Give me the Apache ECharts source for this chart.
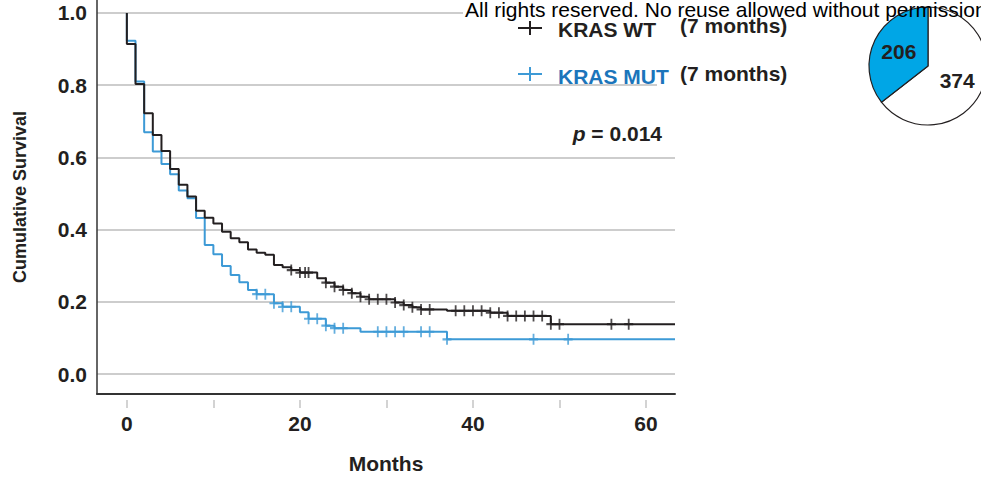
<!DOCTYPE html>
<html><head><meta charset="utf-8">
<script src="https://cdn.jsdelivr.net/npm/echarts@6/dist/echarts.min.js"></script>
<style>html,body{margin:0;padding:0;background:#fff}#c{width:981px;height:480px}</style>
</head><body><div id="c"></div>
<script>
// KRAS WT (black) Kaplan-Meier steps: time (months) and survival after each event
const wtTime = [0, 0, 1, 2, 3, 4, 5, 6, 7, 8, 9, 10, 11, 12, 13, 14, 15, 16, 17, 18, 19, 20, 22, 23, 24, 25, 26, 27, 28, 31, 32, 33, 34, 37, 42, 44, 49];
const wtSurv = [1.0, 0.914, 0.803, 0.722, 0.662, 0.618, 0.568, 0.524, 0.492, 0.452, 0.433, 0.417, 0.394, 0.376, 0.365, 0.345, 0.336, 0.330, 0.302, 0.296, 0.288, 0.281, 0.265, 0.253, 0.242, 0.233, 0.224, 0.214, 0.207, 0.198, 0.191, 0.185, 0.179, 0.175, 0.170, 0.161, 0.138];
const wtCensor = [19, 20, 20.6, 21, 23, 24, 25, 26, 27, 28, 29, 30, 31, 32, 33, 34, 35, 38, 39, 40, 41, 42, 43, 44, 45, 46, 47, 48, 49, 50, 56, 58];
// KRAS MUT (blue)
const mutTime = [0, 0, 1, 2, 3, 4, 5, 6, 7, 8, 9, 10, 11, 12, 13, 14, 15, 17, 18, 20, 21, 23, 24, 27, 37];
const mutSurv = [1.0, 0.923, 0.810, 0.670, 0.616, 0.582, 0.553, 0.508, 0.487, 0.432, 0.357, 0.332, 0.299, 0.274, 0.254, 0.233, 0.221, 0.196, 0.186, 0.171, 0.153, 0.134, 0.127, 0.117, 0.096];
const mutCensor = [15, 16, 17, 18, 19, 21, 22, 23, 24, 25, 29, 30, 31, 32, 34, 35, 37, 47, 51];
// axes
const xTicks = [0, 10, 20, 30, 40, 50, 60];
const xLabels = [0, 20, 40, 60];
const yLabels = [0, 0.2, 0.4, 0.6, 0.8, 1.0];
// pie: [KRAS WT, KRAS MUT]
const pieNames = ['KRAS WT', 'KRAS MUT'];
const pieValues = [374, 206];
const groupNames = ['KRAS WT', 'KRAS MUT'];
const medianLabels = ['(7 months)', '(7 months)'];
const pText = '0.014';

const X_MIN = -3.45, X_MAX = 63.35, Y_MIN = -0.0554, Y_MAX = 1.036;
const BLACK = '#231f20', BLUE = '#3d9ad6', BLUE_TXT = '#1b75bb', PIE_BLUE = '#00a6e6';
const FONT = "'Liberation Sans', Arial, sans-serif";

function steps(t, s) {
  const d = t.map((v, i) => [v, s[i]]);
  d.push([X_MAX, s[s.length - 1]]);
  return d;
}
function survAt(t, s, x) {
  let v = s[0];
  for (let i = 0; i < t.length; i++) if (t[i] <= x) v = s[i];
  return v;
}
const plus = 'path://M4,0H6V4H10V6H6V10H4V6H0V4H4Z';

const chart = echarts.init(document.getElementById('c'), null, {renderer: 'svg'});
chart.setOption({
  animation: false,
  backgroundColor: '#fff',
  textStyle: {fontFamily: FONT},
  grid: {left: 97, right: 306, top: 0, bottom: 86, containLabel: false},
  xAxis: [{
    type: 'value', min: X_MIN, max: X_MAX,
    name: 'Months', nameLocation: 'middle', nameGap: 59,
    nameTextStyle: {fontSize: 21, fontWeight: 'bold', color: BLACK, fontFamily: FONT},
    axisLine: {show: true, onZero: false, lineStyle: {color: '#333', width: 2}},
    axisTick: {show: false, customValues: xLabels},
    axisLabel: {customValues: xLabels, margin: 19, fontSize: 21, fontWeight: 'bold', color: BLACK, fontFamily: FONT},
    splitLine: {show: false}
  }, {
    type: 'value', min: X_MIN, max: X_MAX, position: 'bottom', offset: 6,
    axisLine: {show: false, onZero: false},
    axisTick: {show: true, customValues: xTicks, length: 8, lineStyle: {color: '#c4c4c4', width: 1.5}},
    axisLabel: {show: false},
    splitLine: {show: false}
  }],
  yAxis: {
    type: 'value', min: Y_MIN, max: Y_MAX,
    name: 'Cumulative Survival', nameLocation: 'middle', nameGap: 68,
    nameTextStyle: {fontSize: 18, fontWeight: 'bold', color: BLACK, fontFamily: FONT},
    axisLine: {show: true, onZero: false, lineStyle: {color: '#333', width: 1.5}},
    axisTick: {show: false, customValues: yLabels},
    axisLabel: {customValues: yLabels, margin: 10, fontSize: 21, fontWeight: 'bold', color: BLACK, fontFamily: FONT,
      formatter: v => v.toFixed(1)},
    splitLine: {show: true, lineStyle: {color: '#bdbdbd', width: 1.5}}
  },
  series: [
    {type: 'line', name: 'KRAS MUT', step: 'end', data: steps(mutTime, mutSurv), showSymbol: false, symbol: 'none',
      lineStyle: {color: BLUE, width: 2}, z: 2},
    {type: 'line', name: 'KRAS WT', step: 'end', data: steps(wtTime, wtSurv), showSymbol: false, symbol: 'none',
      lineStyle: {color: BLACK, width: 2}, z: 3},
    {type: 'scatter', data: mutCensor.map(t => [t, survAt(mutTime, mutSurv, t)]), symbol: plus, symbolSize: [9, 11],
      itemStyle: {color: BLUE}, z: 4},
    {type: 'scatter', data: wtCensor.map(t => [t, survAt(wtTime, wtSurv, t)]), symbol: plus, symbolSize: [9, 11],
      itemStyle: {color: BLACK}, z: 5},
    {type: 'pie', center: [928, 66], radius: 59, startAngle: 90, clockwise: true, silent: true, z: 6,
      label: {show: true, position: 'inside', formatter: '{c}', fontSize: 21, fontWeight: 'bold', color: BLACK, fontFamily: FONT},
      labelLine: {show: false},
      itemStyle: {borderColor: BLACK, borderWidth: 1.2},
      data: [{name: pieNames[0], value: pieValues[0], itemStyle: {color: '#fff'}},
             {name: pieNames[1], value: pieValues[1], itemStyle: {color: PIE_BLUE}}]}
  ],
  graphic: [
    {type: 'rect', z: 1, shape: {x: 463, y: 3, width: 214, height: 18}, style: {fill: '#fff'}},
    {type: 'rect', z: 1, shape: {x: 657, y: 80, width: 20, height: 10}, style: {fill: '#fff'}},
    {type: 'text', z: 100, x: 465, y: 9, style: {text: 'All rights reserved. No reuse allowed without permission.',
      fill: '#000', font: "21px " + FONT, verticalAlign: 'middle', align: 'left'}},
    {type: 'line', z: 10, shape: {x1: 518, y1: 28, x2: 542, y2: 28}, style: {stroke: BLACK, lineWidth: 2}},
    {type: 'line', z: 10, shape: {x1: 530, y1: 21, x2: 530, y2: 35}, style: {stroke: BLACK, lineWidth: 2}},
    {type: 'line', z: 10, shape: {x1: 518, y1: 74, x2: 542, y2: 74}, style: {stroke: BLUE, lineWidth: 2}},
    {type: 'line', z: 10, shape: {x1: 530, y1: 67, x2: 530, y2: 81}, style: {stroke: BLUE, lineWidth: 2}},
    {type: 'text', z: 10, x: 558, y: 29, style: {text: groupNames[0], fill: BLACK, font: "bold 21px " + FONT, verticalAlign: 'middle'}},
    {type: 'text', z: 10, x: 680, y: 25, style: {text: medianLabels[0], fill: BLACK, font: "bold 21px " + FONT, verticalAlign: 'middle'}},
    {type: 'text', z: 10, x: 558, y: 76, style: {text: groupNames[1], fill: BLUE_TXT, font: "bold 21px " + FONT, verticalAlign: 'middle'}},
    {type: 'text', z: 10, x: 680, y: 73, style: {text: medianLabels[1], fill: BLACK, font: "bold 21px " + FONT, verticalAlign: 'middle'}},
    {type: 'text', z: 10, x: 662, y: 133, style: {
      text: '{i|p}{b| = ' + pText + '}', align: 'right', verticalAlign: 'middle',
      rich: {i: {font: "italic bold 21px " + FONT, fill: BLACK}, b: {font: "bold 21px " + FONT, fill: BLACK}}}}
  ]
});
</script></body></html>
